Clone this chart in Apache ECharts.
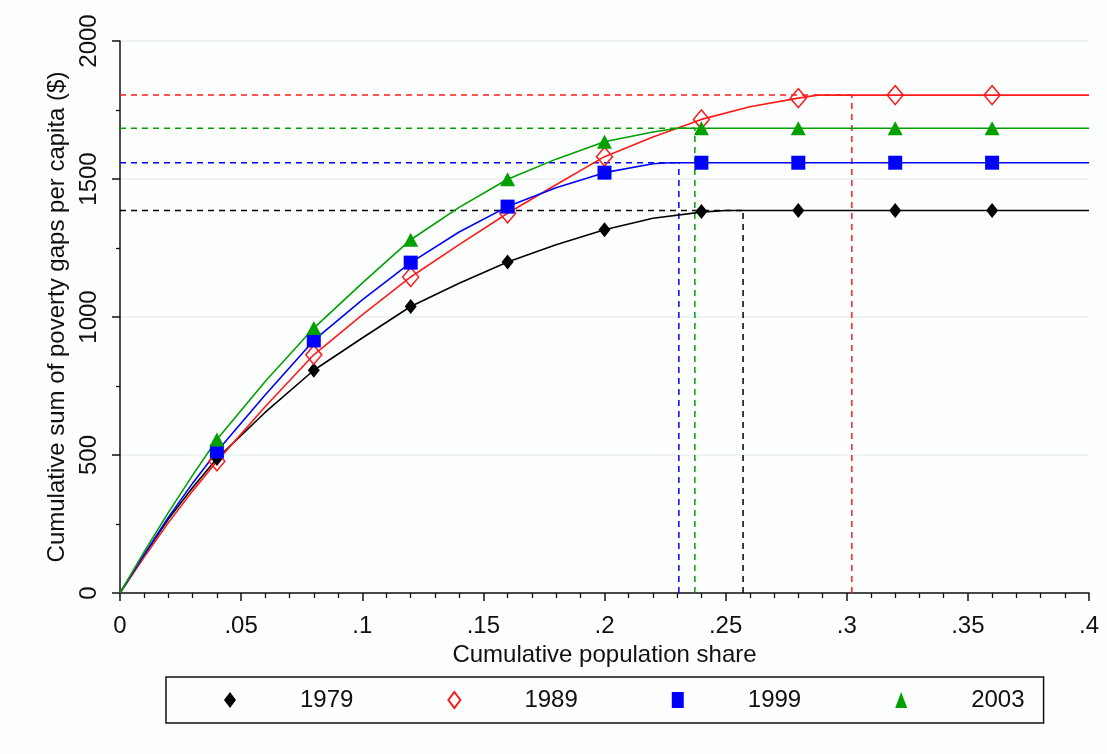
<!DOCTYPE html>
<html>
<head>
<meta charset="utf-8">
<script src="https://cdn.jsdelivr.net/npm/echarts@6/dist/echarts.min.js"></script>
<style>
html,body{margin:0;padding:0;background:#fdfefe;}
#chart{width:1107px;height:754px;}
</style>
</head>
<body>
<div id="chart"></div>
<script>
// ---- data ----
const years = ['1979', '1989', '1999', '2003'];
const colors = ['#000000', '#ff1a1a', '#0000ff', '#00a000'];

// TIP curves: [cumulative population share, cumulative poverty gap per capita]
const tip1979 = [[0,0],[0.01,138],[0.02,268],[0.03,382],[0.04,487],[0.06,655],[0.08,807],[0.10,924],[0.12,1038],[0.14,1122],[0.16,1199],[0.18,1262],[0.20,1316],[0.22,1358],[0.24,1380],[0.25,1386],[0.40,1386]];
const tip1989 = [[0,0],[0.01,130],[0.02,255],[0.03,370],[0.04,477],[0.06,676],[0.08,863],[0.10,1008],[0.12,1145],[0.14,1262],[0.16,1376],[0.18,1479],[0.20,1581],[0.22,1652],[0.24,1716],[0.26,1762],[0.28,1793],[0.288,1804],[0.40,1804]];
const tip1999 = [[0,0],[0.01,140],[0.02,275],[0.03,398],[0.04,513],[0.06,718],[0.08,915],[0.10,1062],[0.12,1197],[0.14,1308],[0.16,1400],[0.18,1468],[0.20,1523],[0.22,1555],[0.227,1559],[0.40,1559]];
const tip2003 = [[0,0],[0.01,150],[0.02,292],[0.03,427],[0.04,556],[0.06,767],[0.08,960],[0.10,1123],[0.12,1280],[0.14,1397],[0.16,1499],[0.18,1572],[0.20,1635],[0.22,1670],[0.23,1684],[0.40,1684]];

// markers
const markerShare = [0.04, 0.08, 0.12, 0.16, 0.20, 0.24, 0.28, 0.32, 0.36];
const mark1979 = [487, 807, 1038, 1199, 1316, 1382, 1386, 1386, 1386];
const mark1989 = [477, 863, 1145, 1376, 1581, 1716, 1793, 1804, 1804];
const mark1999 = [513, 915, 1197, 1400, 1523, 1559, 1559, 1559, 1559];
const mark2003 = [556, 960, 1280, 1499, 1635, 1684, 1684, 1684, 1684];

// poverty headcount (vertical dashed) and total gap (horizontal dashed)
const headcount = [0.2572, 0.3021, 0.2307, 0.2373];
const totalGap = [1386, 1804, 1559, 1684];

const xTicks = [0, 0.05, 0.1, 0.15, 0.2, 0.25, 0.3, 0.35, 0.4];
const yTicks = [0, 500, 1000, 1500, 2000];
// ---------------------------------------

const curves = [tip1979, tip1989, tip1999, tip2003];
const marks = [mark1979, mark1989, mark1999, mark2003];
const symbols = ['diamond', 'diamond', 'rect', 'triangle'];
const symbolSizes = [[12, 15], [16, 19], [14, 14], [15, 14]];
const FONT = 'Liberation Sans, Arial, sans-serif';

const series = [];
years.forEach((y, i) => {
  // dashed reference lines
  series.push({
    name: y + ' gap', type: 'line', silent: true, symbol: 'none', z: 1,
    data: [[0, totalGap[i]], [headcount[i], totalGap[i]]],
    lineStyle: { color: colors[i], width: 1.5, type: [6, 5] }
  });
  series.push({
    name: y + ' head', type: 'line', silent: true, symbol: 'none', z: 1,
    data: [[headcount[i], 0], [headcount[i], totalGap[i]]],
    lineStyle: { color: colors[i], width: 1.5, type: [6, 5] }
  });
});
years.forEach((y, i) => {
  series.push({
    name: y + ' curve', type: 'line', silent: true, symbol: 'none', z: 2,
    smooth: false,
    data: curves[i],
    lineStyle: { color: colors[i], width: 1.6 }
  });
});
years.forEach((y, i) => {
  const hollow = (i === 1);
  series.push({
    name: y, type: 'scatter', z: 3,
    symbol: symbols[i], symbolSize: symbolSizes[i],
    data: markerShare.map((s, k) => [s, marks[i][k]]),
    itemStyle: hollow
      ? { color: 'rgba(255,255,255,0)', borderColor: colors[i], borderWidth: 1.5, opacity: 1 }
      : { color: colors[i], opacity: 1 }
  });
});

const chart = echarts.init(document.getElementById('chart'), null, { renderer: 'canvas' });
chart.setOption({
  backgroundColor: '#fdfefe',
  animation: false,
  textStyle: { fontFamily: FONT },
  grid: { left: 120, right: 18, top: 41, bottom: 161, containLabel: false },
  xAxis: {
    type: 'value', min: 0, max: 0.4, interval: 0.05,
    name: 'Cumulative population share', nameLocation: 'middle', nameGap: 45,
    nameTextStyle: { fontSize: 24, color: '#111', fontFamily: FONT },
    axisLine: { show: true, onZero: false, lineStyle: { color: '#111', width: 1.5 } },
    axisTick: { show: true, length: 8, lineStyle: { color: '#111', width: 1.5 } },
    minorTick: { show: true, splitNumber: 5, length: 5, lineStyle: { color: '#111', width: 1.3 } },
    splitLine: { show: false },
    axisLabel: {
      fontSize: 24, color: '#111', margin: 21, fontFamily: FONT,
      formatter: v => {
        const t = xTicks.find(x => Math.abs(x - v) < 1e-9);
        const val = (t === undefined) ? v : t;
        return val === 0 ? '0' : String(+val.toFixed(2)).replace(/^0\./, '.');
      }
    }
  },
  yAxis: {
    type: 'value', min: 0, max: 2000, interval: 500,
    name: 'Cumulative sum of poverty gaps per capita ($)', nameLocation: 'middle', nameGap: 46,
    nameTextStyle: { fontSize: 24, color: '#111', fontFamily: FONT },
    axisLine: { show: true, onZero: false, lineStyle: { color: '#111', width: 1.5 } },
    axisTick: { show: true, length: 8, lineStyle: { color: '#111', width: 1.5 } },
    minorTick: { show: true, splitNumber: 2, length: 4, lineStyle: { color: '#111', width: 1.3 } },
    splitLine: { show: true, lineStyle: { color: '#e8eff2', width: 1.5 } },
    axisLabel: {
      fontSize: 24, color: '#111', rotate: 90, margin: 19, fontFamily: FONT,
      formatter: v => String(yTicks.find(t => t === v) ?? v)
    }
  },
  legend: {
    data: years.map((y, i) => ({ name: y, icon: symbols[i] })),
    left: 166, top: 677,
    orient: 'horizontal',
    itemWidth: 12, itemHeight: 16, itemGap: 94,
    padding: [11, 19, 11, 58],
    borderColor: '#111', borderWidth: 1.5, borderRadius: 0,
    backgroundColor: '#fdfefe',
    selectedMode: false,
    textStyle: { fontSize: 24, color: '#111', fontFamily: FONT, padding: [0, 0, 0, 59] }
  },
  series: series
});
</script>
</body>
</html>
